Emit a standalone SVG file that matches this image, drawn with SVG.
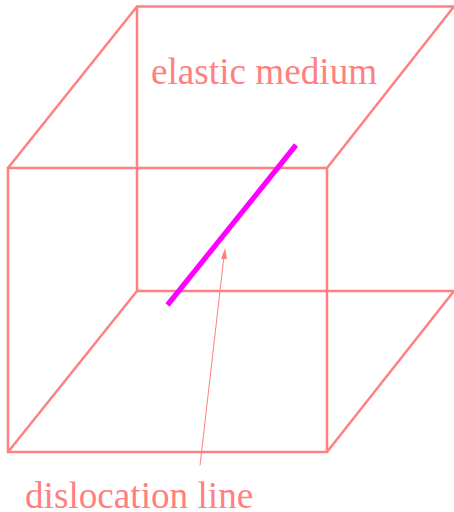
<svg xmlns="http://www.w3.org/2000/svg" width="454" height="512" viewBox="0 0 454 512">
<style>
.e{fill:none;stroke:#ff8080;stroke-width:2.5;stroke-linecap:round}
.t{font-family:"Liberation Serif",serif;font-size:37.2px;fill:#ff8080}
</style>
<g id="connectors">
<path class="e" d="M8 168H327V452H8ZM137 6.500H454M137 6.500V291M137 291H454M8 168L137 6.500M327 168L454 6.500M8 452L137 291M327 452L454 291"/>
</g>
<g id="dislocation-line">
<path d="M167.500 305L296 145" fill="none" stroke="#ff00ff" stroke-width="5.200"/>
</g>
<g id="arrow">
<path d="M200 465.500L224 256" fill="none" stroke="#ff8080" stroke-width="1"/>
<path d="M225 248L221 259L227 259Z" fill="#ff8080"/>
</g>
<g id="label-elastic"><text class="t" x="151" y="84">elastic medium</text></g>
<g id="label-dislocation"><text class="t" x="25" y="507.500">dislocation line</text></g>
</svg>
